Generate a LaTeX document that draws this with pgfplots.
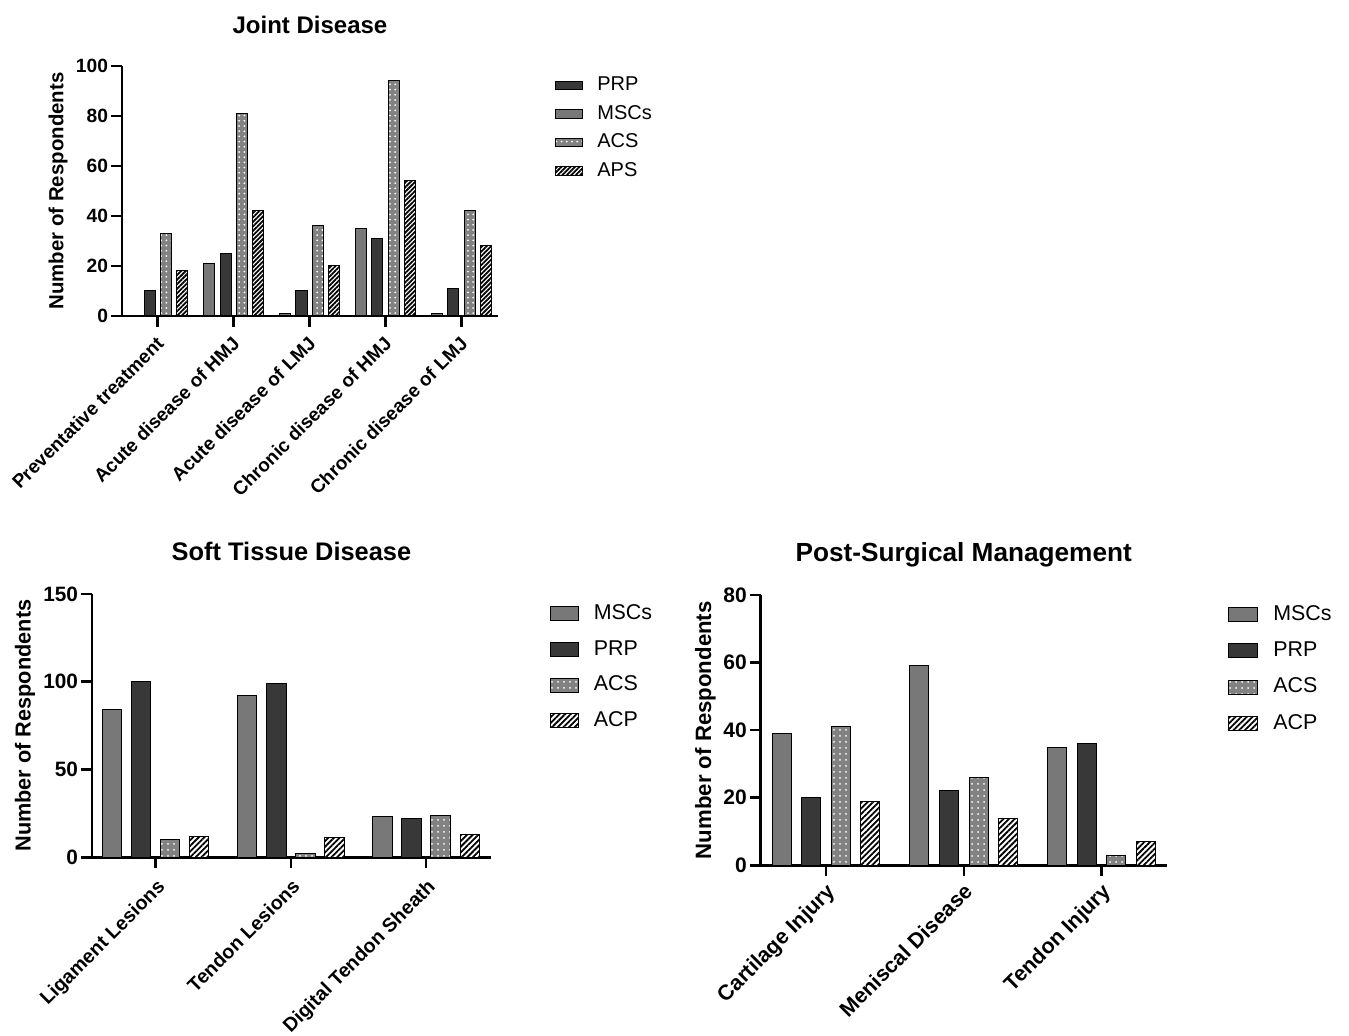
\documentclass[border=0pt]{standalone}
\usepackage{pgfplots}
\pgfplotsset{compat=1.18}
\usepackage{fontspec}
\setmainfont{Liberation Sans}
\usetikzlibrary{patterns,patterns.meta}
\definecolor{msc}{RGB}{120,120,120}
\definecolor{prp}{RGB}{56,56,56}
\definecolor{acs}{RGB}{130,130,130}

\pgfplotsset{
  common/.style={
    scale only axis, anchor=south west,
    axis x line*=bottom, axis y line*=left,
    axis line style={line width=1.3pt, black},
    tick align=outside, major tick length=5.3pt,
    tick style={line width=1.3pt, black},
    ymin=0,
    /pgf/number format/assume math mode=true,
    xticklabel style={rotate=45, anchor=north east, inner sep=1pt},
    yticklabel style={inner xsep=1.5pt},
    ylabel={Number of Respondents},
    legend cell align=left,
  },
  mscbar/.style={ybar, draw=black, line width=0.5pt, fill=msc},
  prpbar/.style={ybar, draw=black, line width=0.5pt, fill=prp},
  acsbar/.style={ybar, draw=black, line width=0.5pt, fill=acs, postaction={pattern={Dots[distance=#1, radius=0.5pt]}, pattern color=white}},
  apsbar/.style={ybar, draw=black, line width=0.5pt, fill=white, postaction={pattern={Lines[angle=45, distance=#1, line width=0.9pt]}, pattern color=black}},
}

\begin{document}
\begin{tikzpicture}
\useasboundingbox (0,0) rectangle (674.5pt,-518pt);

% ---------------- Joint Disease ----------------
\begin{axis}[common,
  at={(61pt,-158pt)}, width=188pt, height=125pt,
  xmin=-0.47, xmax=4.48, ymax=100,
  xtick={0,1,2,3,4},
  xticklabels={Preventative treatment, Acute disease of HMJ, Acute disease of LMJ, Chronic disease of HMJ, Chronic disease of LMJ},
  ytick={0,20,40,60,80,100},
  xticklabel style={font=\bfseries\fontsize{9.5}{11}\selectfont, xshift=-2.8pt, yshift=-1pt},
  yticklabel style={font=\bfseries\fontsize{9.6}{11}\selectfont},
  ylabel style={font=\bfseries\fontsize{10.2}{12}\selectfont, at={(axis description cs:-0.17,0.5)}, anchor=center},
  title={Joint Disease},
  title style={font=\bfseries\fontsize{12}{14}\selectfont, at={(axis description cs:0.5,1)}, anchor=base, yshift=10pt},
  legend style={draw=none, fill=none, at={(axis description cs:1.134,0.976)}, anchor=north west,
    font=\fontsize{10}{12}\selectfont, nodes={inner sep=0pt, text height=7.3pt, text depth=2pt}, row sep=4.9pt},
  legend image code/.code={\draw[#1] (0pt,-2.1pt) rectangle (13.6pt,2.1pt); \path (20.8pt,0pt);},
]
\addplot[prpbar, bar width=0.145, bar shift=-0.107] coordinates {(0,10) (1,25) (2,10) (3,31) (4,11)};
\addlegendentry{PRP}
\addplot[mscbar, bar width=0.145, bar shift=-0.32] coordinates {(0,0) (1,21) (2,1) (3,35) (4,1)};
\addlegendentry{MSCs}
\addplot[acsbar=2.6pt, bar width=0.145, bar shift=0.107] coordinates {(0,33) (1,81) (2,36) (3,94) (4,42)};
\addlegendentry{ACS}
\addplot[apsbar=1.6pt, bar width=0.145, bar shift=0.32] coordinates {(0,18) (1,42) (2,20) (3,54) (4,28)};
\addlegendentry{APS}
\end{axis}

% ---------------- Soft Tissue Disease ----------------
\begin{axis}[common,
  at={(46pt,-428.65pt)}, width=199.5pt, height=131.65pt,
  xmin=-0.471, xmax=2.48, ymax=150,
  xtick={0,1,2},
  xticklabels={Ligament Lesions, Tendon Lesions, Digital Tendon Sheath},
  ytick={0,50,100,150},
  xticklabel style={font=\bfseries\fontsize{9.8}{12}\selectfont, xshift=-2.4pt, yshift=-2.4pt},
  yticklabel style={font=\bfseries\fontsize{10.4}{12}\selectfont},
  ylabel style={font=\bfseries\fontsize{10.85}{13}\selectfont, at={(axis description cs:-0.168,0.5)}, anchor=center},
  title={Soft Tissue Disease},
  title style={font=\bfseries\fontsize{12.7}{15}\selectfont, at={(axis description cs:0.5,1)}, anchor=base, yshift=11pt},
  legend style={draw=none, fill=none, at={(axis description cs:1.133,0.979)}, anchor=north west,
    font=\fontsize{10.7}{13}\selectfont, nodes={inner sep=0pt, text height=7.8pt, text depth=2.2pt}, row sep=7.8pt},
  legend image code/.code={\draw[#1] (0pt,-3.5pt) rectangle (14pt,3.5pt); \path (21.2pt,0pt);},
]
\addplot[mscbar, bar width=0.143, bar shift=-0.3225] coordinates {(0,84) (1,92) (2,23)};
\addlegendentry{MSCs}
\addplot[prpbar, bar width=0.143, bar shift=-0.1075] coordinates {(0,100) (1,99) (2,22)};
\addlegendentry{PRP}
\addplot[acsbar=3pt, bar width=0.143, bar shift=0.1075] coordinates {(0,10) (1,2) (2,24)};
\addlegendentry{ACS}
\addplot[apsbar=2pt, bar width=0.143, bar shift=0.3225] coordinates {(0,12) (1,11) (2,13)};
\addlegendentry{ACP}
\end{axis}

% ---------------- Post-Surgical Management ----------------
\begin{axis}[common,
  at={(380.35pt,-432.65pt)}, width=203pt, height=135.15pt,
  xmin=-0.474, xmax=2.472, ymax=80,
  xtick={0,1,2},
  xticklabels={Cartilage Injury, Meniscal Disease, Tendon Injury},
  ytick={0,20,40,60,80},
  xticklabel style={font=\bfseries\fontsize{10.7}{12}\selectfont, xshift=-1.4pt, yshift=-0.6pt},
  yticklabel style={font=\bfseries\fontsize{10.5}{12}\selectfont},
  ylabel style={font=\bfseries\fontsize{11.1}{13}\selectfont, at={(axis description cs:-0.136,0.5)}, anchor=center},
  title={Post-Surgical Management},
  title style={font=\bfseries\fontsize{13.1}{15}\selectfont, at={(axis description cs:0.5,1)}, anchor=base, yshift=11pt},
  legend style={draw=none, fill=none, at={(axis description cs:1.136,0.981)}, anchor=north west,
    font=\fontsize{10.7}{13}\selectfont, nodes={inner sep=0pt, text height=7.8pt, text depth=2.2pt}, row sep=8.2pt},
  legend image code/.code={\draw[#1] (0pt,-3.5pt) rectangle (14.5pt,3.5pt); \path (22pt,0pt);},
]
\addplot[mscbar, bar width=0.138, bar shift=-0.3225] coordinates {(0,39) (1,59) (2,35)};
\addlegendentry{MSCs}
\addplot[prpbar, bar width=0.138, bar shift=-0.1075] coordinates {(0,20) (1,22) (2,36)};
\addlegendentry{PRP}
\addplot[acsbar=3pt, bar width=0.138, bar shift=0.1075] coordinates {(0,41) (1,26) (2,3)};
\addlegendentry{ACS}
\addplot[apsbar=2pt, bar width=0.138, bar shift=0.3225] coordinates {(0,19) (1,14) (2,7)};
\addlegendentry{ACP}
\end{axis}
\end{tikzpicture}
\end{document}
